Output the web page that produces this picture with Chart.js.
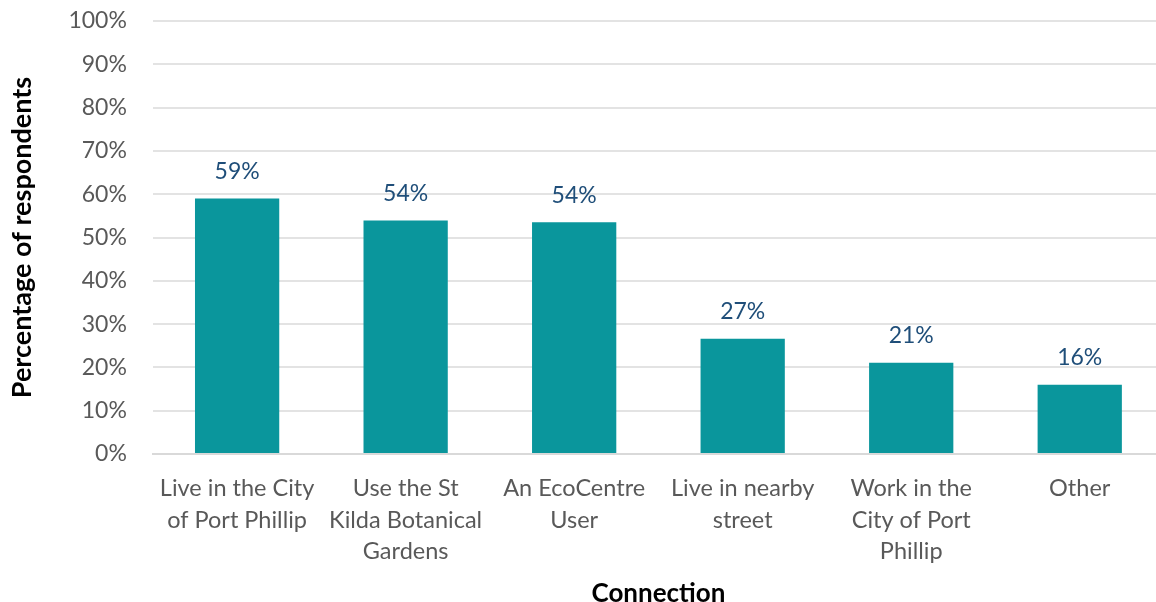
<!DOCTYPE html>
<html>
<head>
<meta charset="utf-8">
<script src="https://cdn.jsdelivr.net/npm/chart.js@4.4.0/dist/chart.umd.min.js"></script>
<style>
  html, body { margin: 0; padding: 0; background: #fff; overflow: hidden; }
  #wrap { width: 1164px; height: 602px; }
</style>
</head>
<body>
<div id="wrap"><canvas id="chart"></canvas></div>
<script>
// данные
const categories = [
  ['Live in the City', 'of Port Phillip'],
  ['Use the St', 'Kilda Botanical', 'Gardens'],
  ['An EcoCentre', 'User'],
  ['Live in nearby', 'street'],
  ['Work in the', 'City of Port', 'Phillip'],
  ['Other']
];
const values = [59, 53.9, 53.5, 26.6, 21.1, 16];
const valueLabels = ['59%', '54%', '54%', '27%', '21%', '16%'];

const FONT = 'Lato, "Open Sans", sans-serif';

// подписи над столбцами
const barLabels = {
  id: 'barLabels',
  afterDatasetsDraw(chart) {
    const ctx = chart.ctx;
    const meta = chart.getDatasetMeta(0);
    ctx.save();
    ctx.font = '23px ' + FONT;
    ctx.fillStyle = '#1F4E79';
    ctx.textAlign = 'center';
    ctx.textBaseline = 'middle';
    meta.data.forEach((bar, i) => {
      ctx.fillText(valueLabels[i], bar.x, bar.y - 27);
    });
    ctx.restore();
  }
};

new Chart(document.getElementById('chart').getContext('2d'), {
  type: 'bar',
  data: {
    labels: categories,
    datasets: [{
      data: values,
      backgroundColor: '#0A969C',
      barPercentage: 1,
      categoryPercentage: 0.5
    }]
  },
  options: {
    responsive: true,
    maintainAspectRatio: false,
    animation: false,
    layout: { padding: { top: 21, right: 0, left: 0, bottom: 0 } },
    plugins: { legend: { display: false }, tooltip: { enabled: false } },
    scales: {
      x: {
        grid: { display: false, drawTicks: false },
        border: { color: '#D9D9D9', width: 2 },
        ticks: {
          color: '#595959',
          font: { family: FONT, size: 23.5, lineHeight: 1.36 },
          maxRotation: 0,
          autoSkip: false,
          padding: 18
        },
        title: {
          display: true,
          text: 'Connection',
          color: '#000',
          font: { family: FONT, size: 26, weight: 'bold', lineHeight: 0.62 },
          padding: { top: 0, bottom: 0 }
        }
      },
      y: {
        min: 0,
        max: 100,
        afterFit: s => { s.width += 26; },
        grid: {
          color: '#E3E3E3',
          lineWidth: 2,
          drawTicks: true,
          tickLength: 26,
          tickColor: 'rgba(0,0,0,0)'
        },
        border: { display: false },
        ticks: {
          stepSize: 10,
          color: '#595959',
          font: { family: FONT, size: 23 },
          padding: 0,
          callback: v => v + '%'
        },
        title: {
          display: true,
          text: 'Percentage of respondents',
          color: '#000',
          font: { family: FONT, size: 27, weight: 'bold' },
          padding: { top: 6, bottom: 4 }
        }
      }
    }
  },
  plugins: [barLabels]
});
</script>
</body>
</html>
